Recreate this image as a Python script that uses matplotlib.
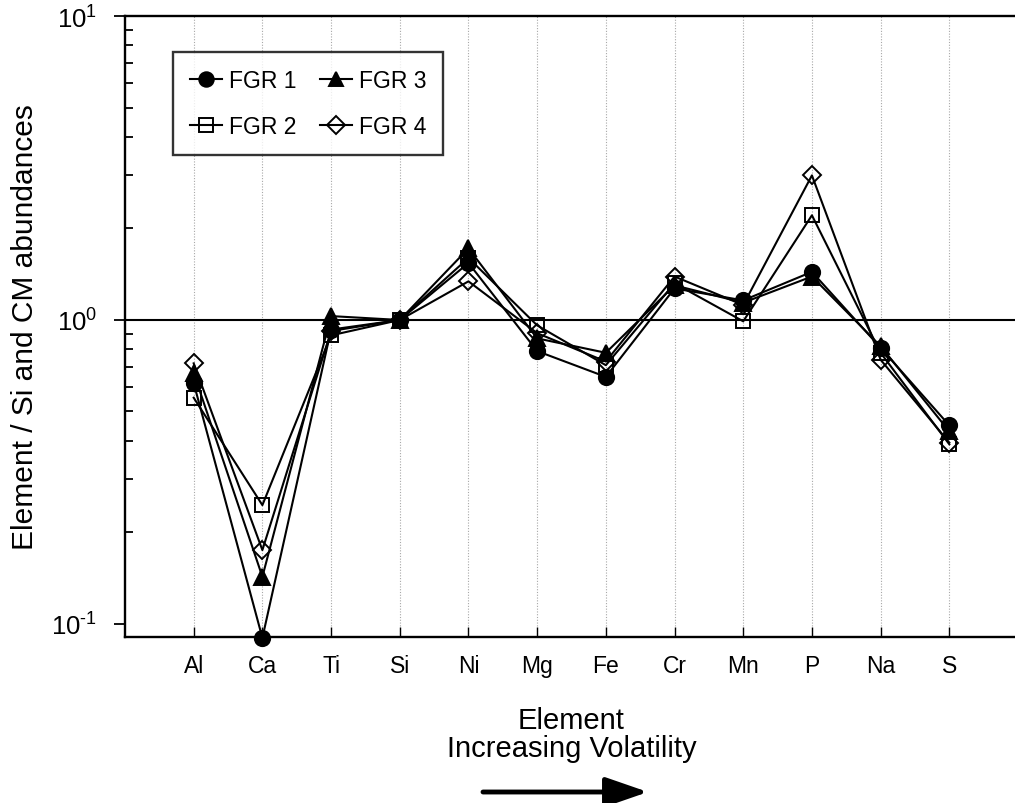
import numpy as np
import matplotlib
matplotlib.use("Agg")
import matplotlib.pyplot as plt
from matplotlib.ticker import LogLocator, NullFormatter

plt.rcParams["font.family"] = ["Liberation Sans", "DejaVu Sans"]
plt.rcParams["mathtext.fontset"] = "custom"
plt.rcParams["mathtext.rm"] = "Liberation Sans"
plt.rcParams["mathtext.it"] = "Liberation Sans"

# element order (increasing volatility)
elements = ["Al", "Ca", "Ti", "Si", "Ni", "Mg", "Fe", "Cr", "Mn", "P", "Na", "S"]

# element / Si and CM normalised abundances
fgr1 = [0.62, 0.090, 0.93, 1.00, 1.54, 0.79, 0.65, 1.27, 1.16, 1.44, 0.81, 0.45]
fgr2 = [0.555, 0.246, 0.89, 1.00, 1.60, 0.96, 0.71, 1.32, 0.99, 2.21, 0.78, 0.39]
fgr3 = [0.67, 0.143, 1.03, 1.00, 1.72, 0.87, 0.78, 1.30, 1.14, 1.39, 0.82, 0.43]
fgr4 = [0.72, 0.175, 0.92, 1.00, 1.34, 0.905, 0.73, 1.39, 1.12, 2.99, 0.74, 0.395]

x = np.arange(1, len(elements) + 1)

fig = plt.figure(figsize=(10.15, 8.04), dpi=100)
ax = fig.add_axes([125 / 1015, (804 - 638) / 804, 893 / 1015, 621 / 804])

# vertical dotted grid at each element + horizontal reference at 1
for xi in x:
    ax.axvline(xi, color="#a8a8a8", lw=0.8, ls=(0, (1, 1.5)), zorder=0)
ax.axhline(1.0, color="black", lw=1.5, zorder=1)

style = dict(color="black", lw=1.5, ms=11, mew=1.4)
l4, = ax.plot(x, fgr4, marker="D", mfc="none", label="FGR 4", **dict(style, ms=9.5))
l2, = ax.plot(x, fgr2, marker="s", mfc="none", label="FGR 2", **dict(style, ms=10))
l3, = ax.plot(x, fgr3, marker="^", mfc="black", label="FGR 3", **style)
l1, = ax.plot(x, fgr1, marker="o", mfc="black", label="FGR 1", **style)
for ln in (l1, l2, l3, l4):
    ln.set_clip_on(False)

ax.set_yscale("log")
ax.set_ylim(0.0906, 10)
ax.set_xlim(0, 13)

ax.set_xticks(x)
ax.set_xticklabels(elements, fontsize=16.5)
ax.tick_params(axis="x", direction="in", length=7, width=1, pad=12)

ax.yaxis.set_minor_locator(LogLocator(base=10, subs=np.arange(2, 10), numticks=20))
ax.yaxis.set_minor_formatter(NullFormatter())
ax.set_yticks([0.1, 1, 10])
ax.set_yticklabels(["$10^{\u20101}$", "$10^{0}$", "$10^{1}$"], fontsize=18.5)
ax.tick_params(axis="y", which="major", direction="out", length=8, width=1.3, pad=12)
ax.tick_params(axis="y", which="minor", direction="in", length=6, width=1.3)

for s in ("left", "bottom", "top"):
    ax.spines[s].set_linewidth(1.7)
ax.spines["right"].set_visible(False)

ax.set_ylabel("Element / Si and CM abundances", fontsize=21.5, labelpad=9)
ax.set_xlabel("Element\nIncreasing Volatility", fontsize=21, labelpad=21, linespacing=1.0)

leg = ax.legend(handles=[l1, l2, l3, l4], ncol=2, loc="upper left",
                bbox_to_anchor=(48 / 893, 1 - 36 / 621), fontsize=16.5,
                frameon=True, fancybox=False, handlelength=1.4, handletextpad=0.3,
                columnspacing=1.0, labelspacing=1.0, borderpad=0.75, markerscale=0.95,
                borderaxespad=0)
leg.get_frame().set_edgecolor("black")
leg.get_frame().set_linewidth(1.7)

# arrow showing increasing volatility
ax.annotate("", xy=(648 / 1015, (804 - 793) / 804), xytext=(483 / 1015, (804 - 793) / 804),
            xycoords="figure fraction", textcoords="figure fraction",
            arrowprops=dict(arrowstyle="-|>,head_length=2.6,head_width=0.9",
                            color="black", lw=3.5, shrinkA=0, shrinkB=0))

fig.savefig("out.png", dpi=100)
